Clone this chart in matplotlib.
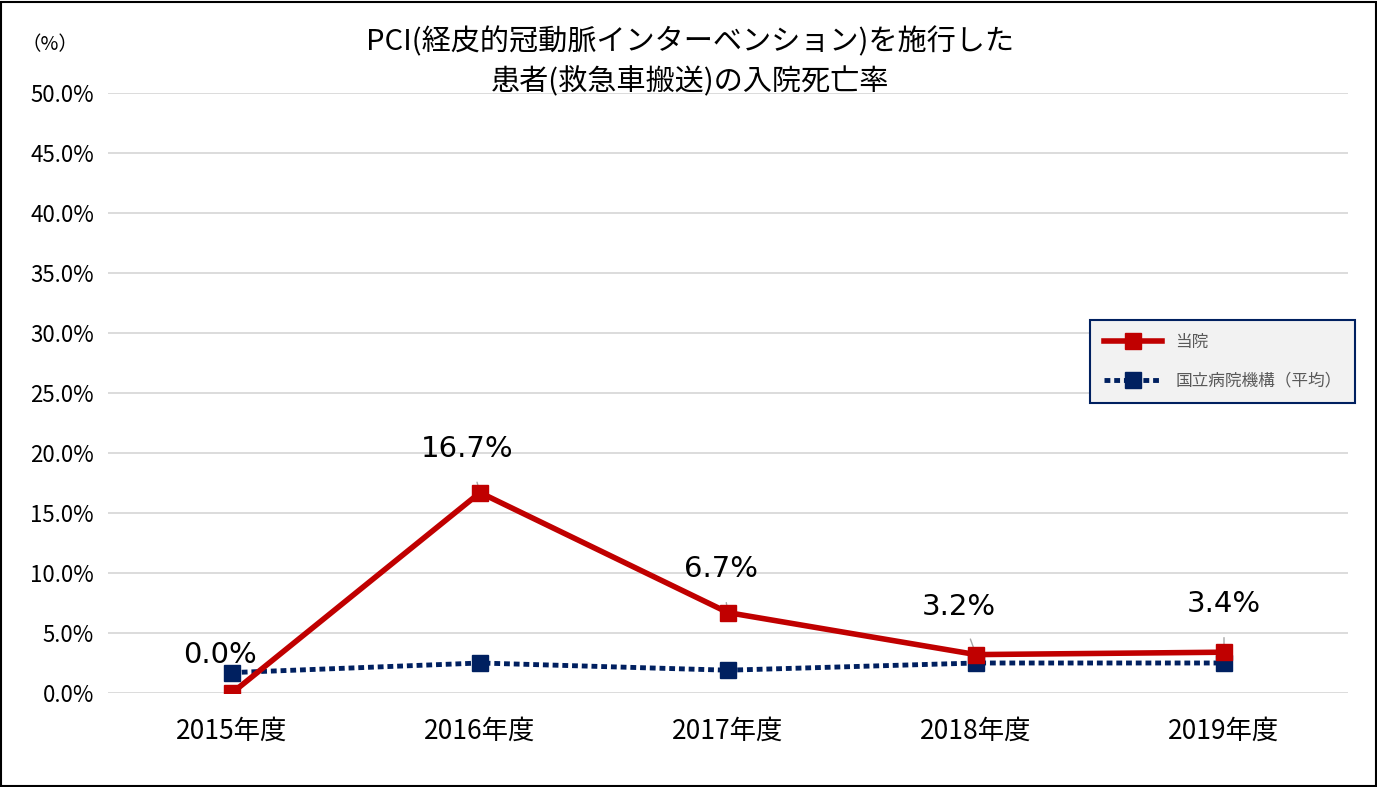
import matplotlib.pyplot as plt
from matplotlib.ticker import FuncFormatter
import matplotlib.patches as mpatches

plt.rcParams['font.family'] = ['Noto Sans CJK JP']

years = ['2015年度', '2016年度', '2017年度', '2018年度', '2019年度']
hospital = [0.0, 16.7, 6.7, 3.2, 3.4]
national = [1.7, 2.5, 1.9, 2.5, 2.5]
labels = ['0.0%', '16.7%', '6.7%', '3.2%', '3.4%']

fig = plt.figure(figsize=(13.77, 7.87), dpi=100)
ax = fig.add_axes([108/1377, 1-693/787, 1240/1377, 600/787])
fig.patches.append(mpatches.Rectangle((0.001, 0.001), 0.998, 0.997, transform=fig.transFigure,
                                      fill=False, edgecolor='black', linewidth=1.5))

x = list(range(len(years)))
ax.plot(x, national, color='#002060', linestyle=(0, (1.2, 0.8)), linewidth=3.5,
        marker='s', markersize=11, label='国立病院機構（平均）', zorder=3)
ax.plot(x, hospital, color='#c00000', linewidth=4, marker='s', markersize=11,
        label='当院', zorder=4)

offsets = [(-0.05, 3.2), (-0.05, 3.6), (-0.03, 3.6), (-0.07, 4.0), (0.0, 4.0)]
for i, (v, t) in enumerate(zip(hospital, labels)):
    dx, dy = offsets[i]
    ax.annotate(t, xy=(i, v), xytext=(i + dx, v + dy), ha='center', va='center',
                fontsize=21, fontfamily='DejaVu Sans',
                arrowprops=dict(arrowstyle='-', color='#a6a6a6', lw=1, shrinkA=12, shrinkB=0))

ax.set_xlim(-0.5, 4.5)
ax.set_ylim(0, 50)
ax.set_yticks(range(0, 51, 5))
ax.yaxis.set_major_formatter(FuncFormatter(lambda v, p: f'{v:.1f}%'))
ax.set_xticks(x)
ax.set_xticklabels(years, fontsize=19)
ax.tick_params(axis='y', labelsize=16, length=0, pad=10)
ax.tick_params(axis='x', length=0, pad=18)
ax.grid(axis='y', color='#d9d9d9', linewidth=1.3)
ax.set_axisbelow(True)
for s in ax.spines.values():
    s.set_visible(False)

fig.text(50/1377, 1-45/787, '（%）', fontsize=14, ha='center', va='center')
fig.text(690/1377, 1-62/787, 'PCI(経皮的冠動脈インターベンション)を施行した\n患者(救急車搬送)の入院死亡率',
         fontsize=21, ha='center', va='center', linespacing=1.4)

leg = ax.legend(handles=ax.get_lines()[::-1], loc='upper left',
                bbox_to_anchor=((1082-108)/1240, (693-312)/600), fontsize=12,
                frameon=True, fancybox=False, edgecolor='#002060', facecolor='#f2f2f2',
                framealpha=1, handlelength=3.5, labelspacing=1.3, borderpad=0.8)
leg.get_frame().set_linewidth(1.5)
for t in leg.get_texts():
    t.set_color('#595959')

fig.savefig('out.png', dpi=100)
